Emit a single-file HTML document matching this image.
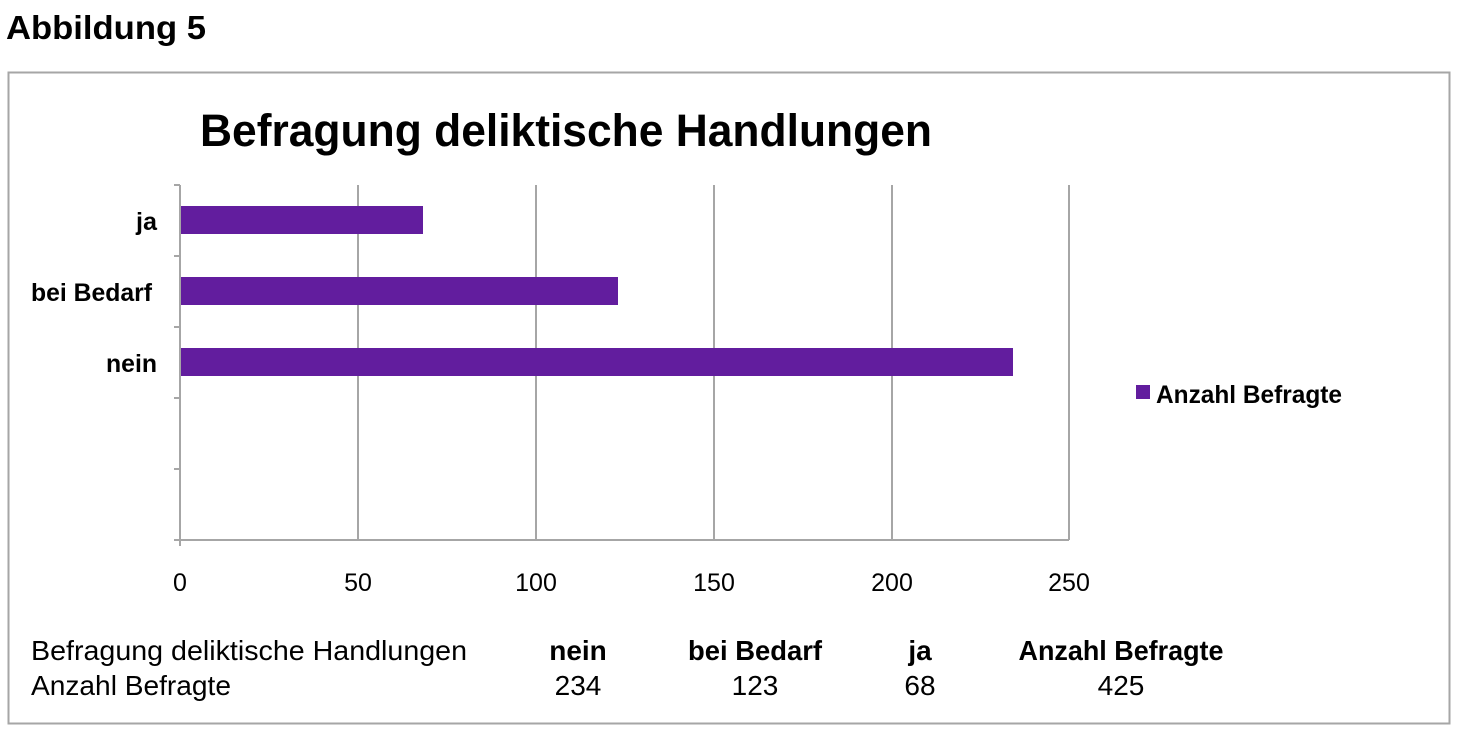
<!DOCTYPE html>
<html><head><meta charset="utf-8"><style>
html,body{margin:0;padding:0;background:#fff;width:1458px;height:733px;overflow:hidden}
svg{display:block}
text{font-family:"Liberation Sans",sans-serif;fill:#000}
</style></head><body>
<svg width="1458" height="733" viewBox="0 0 1458 733">
<text x="6" y="39" font-size="33" font-weight="bold" textLength="200" lengthAdjust="spacingAndGlyphs">Abbildung 5</text>
<rect x="8.5" y="72.5" width="1441" height="651" fill="none" stroke="#a6a6a6" stroke-width="2"/>
<text x="200" y="146" font-size="45" font-weight="bold" textLength="732" lengthAdjust="spacingAndGlyphs">Befragung deliktische Handlungen</text>
<g stroke="#a6a6a6" stroke-width="2">
<line x1="358" y1="185" x2="358" y2="540"/>
<line x1="536" y1="185" x2="536" y2="540"/>
<line x1="714" y1="185" x2="714" y2="540"/>
<line x1="892" y1="185" x2="892" y2="540"/>
<line x1="1069" y1="185" x2="1069" y2="540"/>
<line x1="180" y1="185" x2="180" y2="546"/>
<line x1="174" y1="540" x2="1069" y2="540"/>
<line x1="174" y1="185" x2="180" y2="185"/>
<line x1="174" y1="256" x2="180" y2="256"/>
<line x1="174" y1="327" x2="180" y2="327"/>
<line x1="174" y1="398" x2="180" y2="398"/>
<line x1="174" y1="469" x2="180" y2="469"/>
</g>
<g fill="#621d9e">
<rect x="181" y="206" width="242" height="28"/>
<rect x="181" y="277" width="437" height="28"/>
<rect x="181" y="348" width="832" height="28"/>
</g>
<g font-size="25" font-weight="bold">
<text x="136" y="230" textLength="21" lengthAdjust="spacingAndGlyphs">ja</text>
<text x="31" y="301" textLength="121" lengthAdjust="spacingAndGlyphs">bei Bedarf</text>
<text x="106" y="372" textLength="51" lengthAdjust="spacingAndGlyphs">nein</text>
</g>
<g font-size="25" text-anchor="middle">
<text x="180" y="591">0</text>
<text x="358" y="591">50</text>
<text x="536" y="591">100</text>
<text x="714" y="591">150</text>
<text x="892" y="591">200</text>
<text x="1069" y="591">250</text>
</g>
<rect x="1136" y="385" width="14" height="14" fill="#621d9e"/>
<text x="1156" y="403" font-size="25" font-weight="bold" textLength="186" lengthAdjust="spacingAndGlyphs">Anzahl Befragte</text>
<g font-size="28">
<text x="31" y="660" textLength="436" lengthAdjust="spacingAndGlyphs">Befragung deliktische Handlungen</text>
<text x="31" y="695" textLength="200" lengthAdjust="spacingAndGlyphs">Anzahl Befragte</text>
</g>
<g font-size="28" text-anchor="middle">
<text x="578" y="660" font-weight="bold">nein</text>
<text x="755" y="660" font-weight="bold" textLength="134" lengthAdjust="spacingAndGlyphs">bei Bedarf</text>
<text x="920" y="660" font-weight="bold">ja</text>
<text x="1121" y="660" font-weight="bold" textLength="205" lengthAdjust="spacingAndGlyphs">Anzahl Befragte</text>
<text x="578" y="695">234</text>
<text x="755" y="695">123</text>
<text x="920" y="695">68</text>
<text x="1121" y="695">425</text>
</g>
</svg>
</body></html>
